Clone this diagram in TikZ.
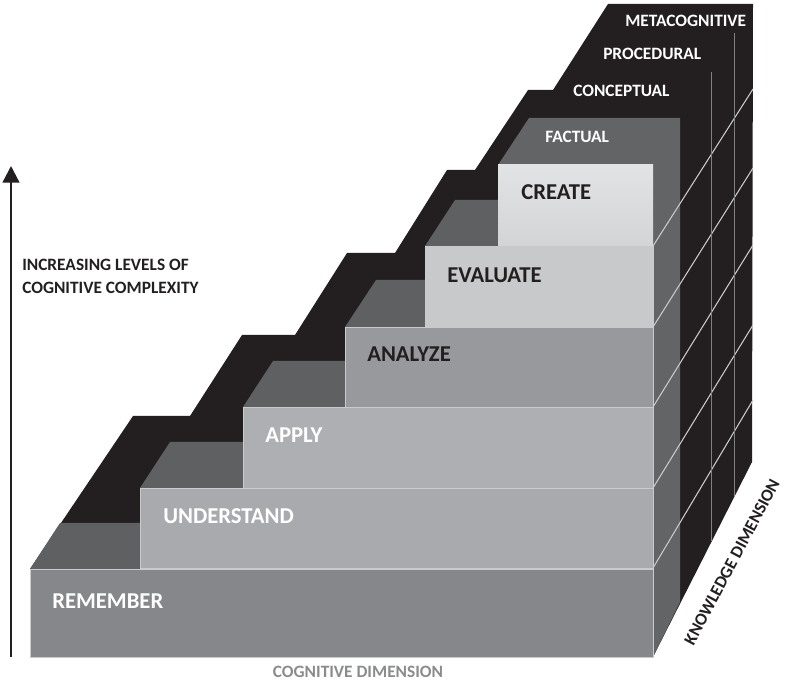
\documentclass[tikz,border=0pt]{standalone}
\usepackage{fontspec}
\setmainfont{Carlito}
\usepackage{xcolor}
\usepackage{tikz}
\usetikzlibrary{arrows.meta}
\definecolor{stairblack}{HTML}{231F20}
\definecolor{factualgray}{HTML}{5F6062}
\definecolor{sidegray}{HTML}{636466}
\definecolor{rememberface}{HTML}{86878A}
\definecolor{understandface}{HTML}{A9AAAD}
\definecolor{applyface}{HTML}{AEAFB2}
\definecolor{analyzeface}{HTML}{97999C}
\definecolor{evaluateface}{HTML}{C8C9CB}
\definecolor{createtop}{HTML}{E2E3E4}
\definecolor{createbottom}{HTML}{D3D4D6}
\definecolor{edgelight}{HTML}{C9CACC}
\definecolor{dimgray}{HTML}{8A8B8D}

\begin{document}
\begin{tikzpicture}[x=0.75pt,y=-0.75pt,
  levelface/.style={draw=edgelight, line width=0.4pt},
  leveltext/.style={anchor=base west, inner sep=0pt, font=\fontsize{17}{20}\selectfont\bfseries},
  layertext/.style={anchor=base west, inner sep=0pt, text=white, font=\fontsize{13}{16}\selectfont\bfseries},
  sidetext/.style={inner sep=0pt, text=stairblack, font=\fontsize{13}{16}\selectfont\bfseries},
  rightline/.style={edgelight, line width=0.8pt}]
\useasboundingbox (0,0) rectangle (800,680);
\fill[stairblack] (30,569) -- (133,416) -- (190,416) -- (242,335) -- (295,335) -- (347,253)
  -- (395,253) -- (447,170) -- (475,170) -- (528,90) -- (553,90) -- (608,4) -- (753,4)
  -- (752,462) -- (653,657) -- cycle;
\fill[factualgray] (30,569) -- (60,523) -- (653,523) -- (653,569) -- cycle;
\fill[factualgray] (140,488) -- (170,442) -- (653,442) -- (653,488) -- cycle;
\fill[factualgray] (243,407) -- (273,361) -- (653,361) -- (653,407) -- cycle;
\fill[factualgray] (345,327) -- (376,280) -- (653,280) -- (653,327) -- cycle;
\fill[factualgray] (425,246) -- (455,200) -- (653,200) -- (653,246) -- cycle;
\fill[sidegray] (498,165) -- (529,118) -- (680,118) -- (680,602) -- (653,657) -- (653,165) -- cycle;
\draw[rightline] (653,246) -- (753,89);
\draw[rightline] (653,327) -- (753,168);
\draw[rightline] (653,407) -- (753,245);
\draw[rightline] (653,488) -- (753,325);
\draw[rightline] (653,568) -- (753,400);
\draw[gray, line width=0.6pt] (711,72) -- (711,541);
\draw[gray, line width=0.6pt] (734,33) -- (734,496);
\filldraw[levelface, fill=rememberface] (30,569) rectangle (653,657);
\filldraw[levelface, fill=understandface] (140,488) rectangle (653,568);
\filldraw[levelface, fill=applyface] (243,407) rectangle (653,488);
\filldraw[levelface, fill=analyzeface] (345,327) rectangle (653,407);
\filldraw[levelface, fill=evaluateface] (425,246) rectangle (653,327);
\shade[top color=createtop, bottom color=createbottom] (498,165) rectangle (653,246);
\node[leveltext, text=white] (remember) at (52,609) {REMEMBER};
\node[leveltext, text=white] (understand) at (163,524) {UNDERSTAND};
\node[leveltext, text=white] (apply) at (265,443) {APPLY};
\node[leveltext, text=stairblack] (analyze) at (367,362) {ANALYZE};
\node[leveltext, text=stairblack] (evaluate) at (447,283) {EVALUATE};
\node[leveltext, text=stairblack] (create) at (521,200) {CREATE};
\node[layertext] (factual) at (545,143) {FACTUAL};
\node[layertext] (conceptual) at (573,97) {CONCEPTUAL};
\node[layertext] (procedural) at (603,60) {PROCEDURAL};
\node[layertext] (metacognitive) at (625,27) {METACOGNITIVE};
\node[sidetext, anchor=base west] (increasing) at (22,271) {INCREASING LEVELS OF};
\node[sidetext, anchor=base west] (complexity) at (22,294) {COGNITIVE COMPLEXITY};
\node[sidetext, anchor=base, text=dimgray] (cogdim) at (358,677) {COGNITIVE DIMENSION};
\node[sidetext, rotate=62] (knowdim) at (732,562) {KNOWLEDGE DIMENSION};
\coordinate (arrowbase) at (11,657);
\coordinate (arrowtip) at (11,166);
\draw[stairblack, line width=1.8pt, -{Triangle[width=12.5pt,length=12.5pt]}] (arrowbase) -- (arrowtip);
\end{tikzpicture}
\end{document}
